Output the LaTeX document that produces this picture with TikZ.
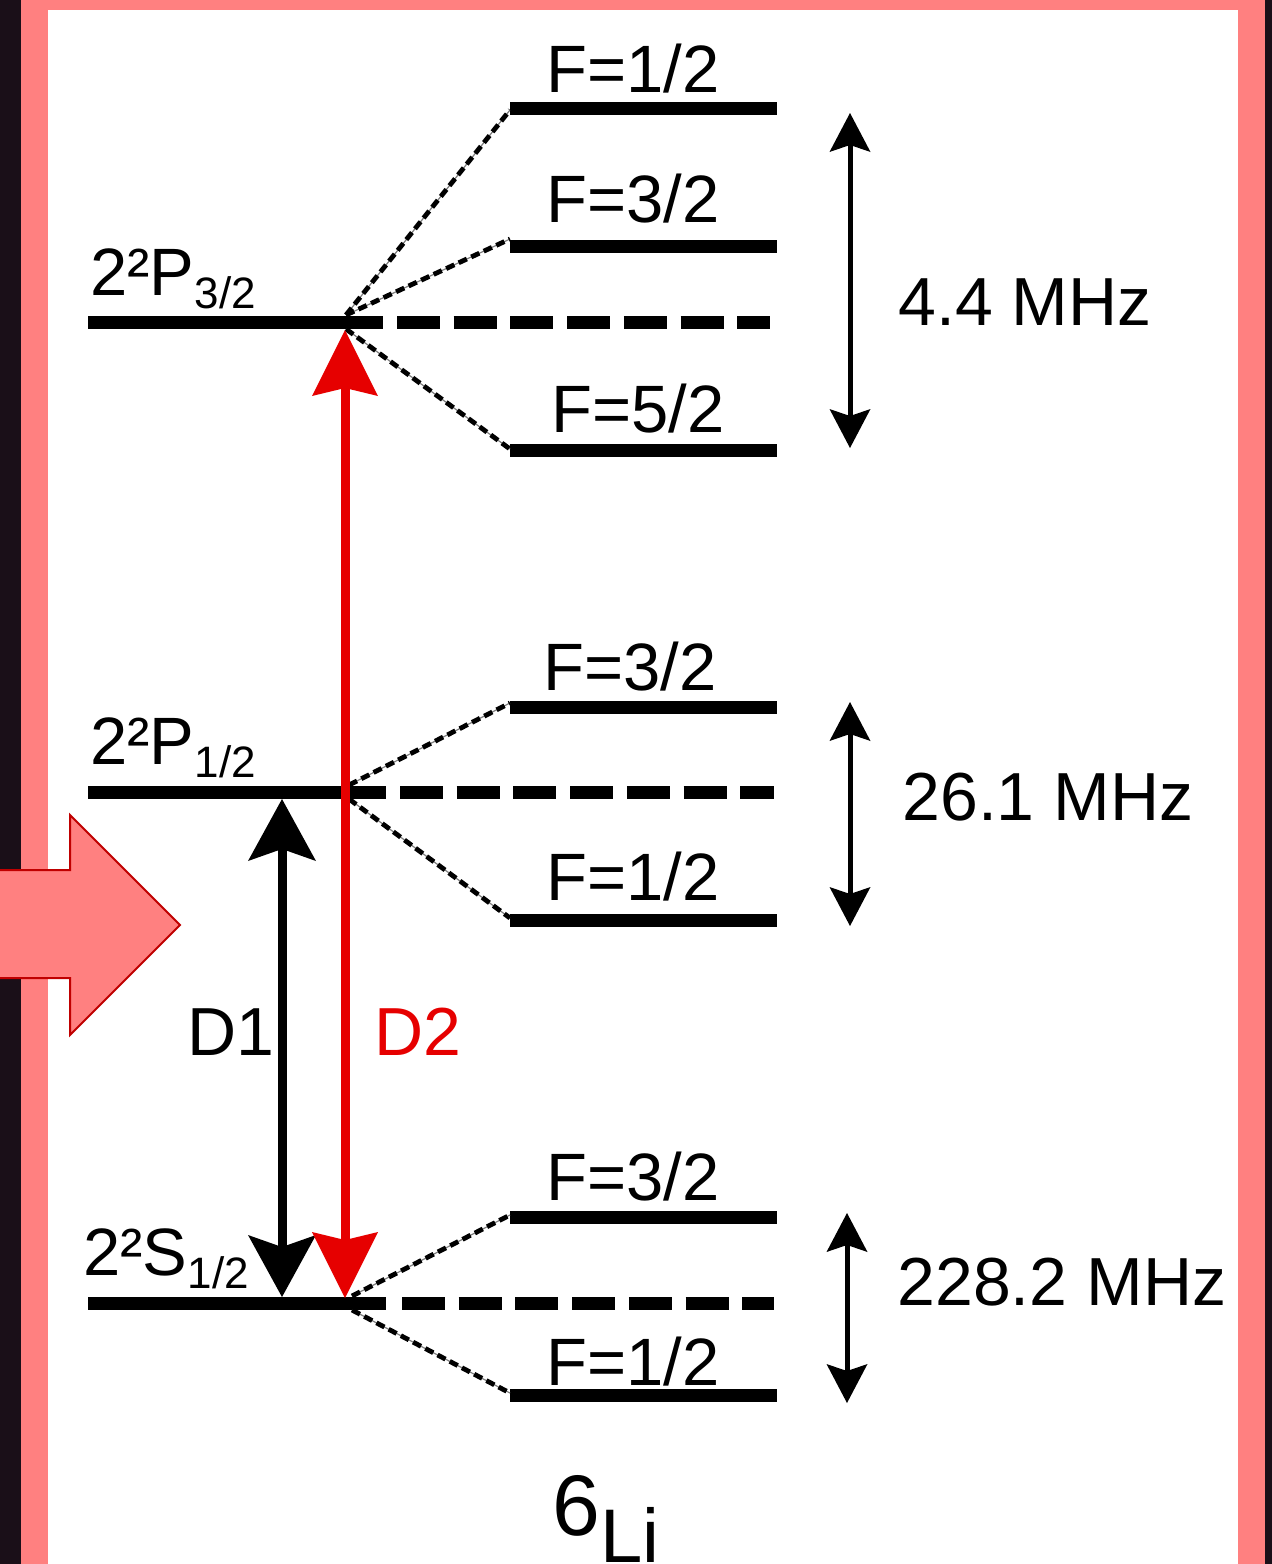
\documentclass[tikz,border=0pt]{standalone}
\usepackage{fontspec}
\setmainfont{Liberation Sans}
\usetikzlibrary{arrows.meta}
\definecolor{bgdark}{HTML}{1A0F18}
\definecolor{frame}{HTML}{FF8080}
\definecolor{dred}{HTML}{E60000}
\definecolor{arrowedge}{HTML}{C00000}
\newcommand\lowsub[1]{\raisebox{-6.5pt}{\fontsize{22}{24}\selectfont #1}}
\tikzset{
  bigtip/.tip={Stealth[length=33pt, width=33pt, inset=4pt, line width=0pt]},
  blacktip/.tip={Stealth[length=31pt, width=34pt, inset=6pt, line width=0pt]},
  smalltip/.tip={Stealth[length=19.5pt, width=20.5pt, inset=3.5pt, line width=0pt]},
}
\begin{document}
\begin{tikzpicture}[x=0.5pt,y=-0.5pt,
  level/.style={line width=6.5pt},
  fslevel/.style={line width=6.5pt, dash pattern=on 21.5pt off 6.85pt},
  split/.style={line width=2.4pt, dash pattern=on 4.5pt off 2.4pt,
    preaction={draw, gray, line width=0.6pt, solid}},
  lbl/.style={inner sep=0pt, anchor=base west, font=\fontsize{33.5}{40}\selectfont},
  freq/.style={inner sep=0pt, anchor=base west, font=\fontsize{34}{40}\selectfont},
  gap/.style={line width=2.5pt, smalltip-smalltip},
]
\useasboundingbox (0,0) rectangle (1272,1564);
% background and frame
\fill[bgdark] (0,0) rectangle (1272,1564);
\fill[frame] (21,0) rectangle (1265,1564);
\fill[white] (48,10) rectangle (1238,1564);

% big pink block arrow at left
\draw[fill=frame, draw=arrowedge, line width=1pt, line join=miter]
  (-10,870) -- (70,870) -- (70,815) -- (180,925) -- (70,1035) -- (70,978) -- (-10,978);

% ---- fine-structure levels ----
\coordinate (P3L) at (88,322);  \coordinate (P3M) at (383,322);
\coordinate (P3D) at (397,322); \coordinate (P3R) at (770,322);
\coordinate (P1L) at (88,792);  \coordinate (P1M) at (386,792);
\coordinate (P1D) at (400,792); \coordinate (P1R) at (774,792);
\coordinate (SL) at (88,1303);  \coordinate (SM) at (386,1303);
\coordinate (SD) at (402,1303); \coordinate (SR) at (774,1303);
\draw[level] (P3L) -- (P3M);
\draw[fslevel] (P3D) -- (P3R);
\draw[level] (P1L) -- (P1M);
\draw[fslevel] (P1D) -- (P1R);
\draw[level] (SL) -- (SM);
\draw[fslevel] (SD) -- (SR);

% ---- hyperfine levels ----
\coordinate (a1) at (510,108);  \coordinate (a1r) at (777,108);
\coordinate (a2) at (510,246);  \coordinate (a2r) at (777,246);
\coordinate (a3) at (510,450);  \coordinate (a3r) at (777,450);
\coordinate (b1) at (510,707);  \coordinate (b1r) at (777,707);
\coordinate (b2) at (510,920);  \coordinate (b2r) at (777,920);
\coordinate (c1) at (510,1217); \coordinate (c1r) at (777,1217);
\coordinate (c2) at (510,1395); \coordinate (c2r) at (777,1395);
\foreach \p in {a1,a2,a3,b1,b2,c1,c2} {\draw[level] (\p) -- (\p r);}

% ---- splitting lines ----
\coordinate (P3up) at (346,315); \coordinate (P3dn) at (346,329);
\coordinate (P1up) at (349,785); \coordinate (P1dn) at (349,799);
\coordinate (Sup) at (352,1296); \coordinate (Sdn) at (352,1310);
\draw[split] (P3up) -- (510,110);
\draw[split] (P3up) -- (510,239);
\draw[split] (P3dn) -- (510,449);
\draw[split] (P1up) -- (510,703);
\draw[split] (P1dn) -- (510,918);
\draw[split] (Sup) -- (510,1215);
\draw[split] (Sdn) -- (510,1393);

% ---- hyperfine labels ----
\node[lbl] (la1) at (546,92) {F=1/2};
\node[lbl] (la2) at (546,222) {F=3/2};
\node[lbl] (la3) at (551,432) {F=5/2};
\node[lbl] (lb1) at (543,690) {F=3/2};
\node[lbl] (lb2) at (546,900) {F=1/2};
\node[lbl] (lc1) at (546,1200) {F=3/2};
\node[lbl] (lc2) at (546,1385) {F=1/2};

% ---- term labels ----
\node[lbl] (tP3) at (90,295) {2²P\lowsub{3/2}};
\node[lbl] (tP1) at (90,764) {2²P\lowsub{1/2}};
\node[lbl] (tS) at (83,1275) {2²S\lowsub{1/2}};

% ---- D1 / D2 transitions ----
\coordinate (D1top) at (282,799);
\coordinate (D1bot) at (282,1297);
\coordinate (D2top) at (345,330);
\coordinate (D2bot) at (345,1298);
\draw[line width=4.5pt, blacktip-blacktip] (D1top) -- (D1bot);
\draw[dred, line width=4.5pt, bigtip-bigtip] (D2top) -- (D2bot);
\node[freq] (D1) at (187,1055) {D1};
\node[freq, text=dred] (D2) at (374,1055) {D2};

% ---- splitting arrows ----
\coordinate (g1t) at (850,113);  \coordinate (g1b) at (850,448);
\coordinate (g2t) at (850,702);  \coordinate (g2b) at (850,926);
\coordinate (g3t) at (847,1213); \coordinate (g3b) at (847,1403);
\draw[gap] (g1t) -- (g1b);
\draw[gap] (g2t) -- (g2b);
\draw[gap] (g3t) -- (g3b);
\node[freq] (f1) at (898,325) {4.4 MHz};
\node[freq] (f2) at (902,820) {26.1 MHz};
\node[freq] (f3) at (897,1305) {228.2 MHz};

% ---- isotope ----
\node[inner sep=0pt, anchor=base west] (iso) at (552,1535)
  {{\fontsize{43}{50}\selectfont 6}\raisebox{-13.5pt}{\fontsize{38}{44}\selectfont Li}};
\end{tikzpicture}
\end{document}
